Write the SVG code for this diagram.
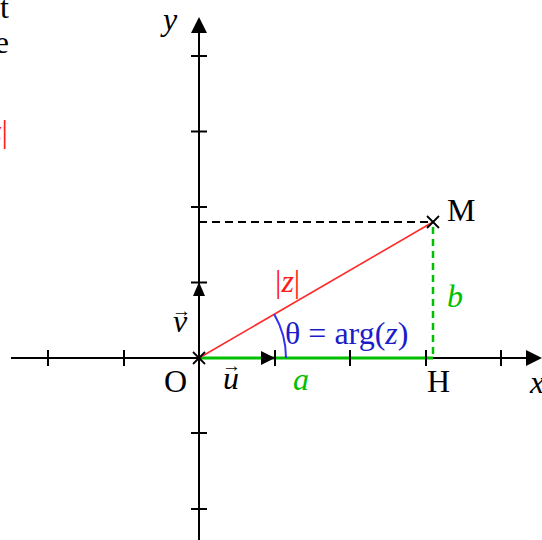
<svg xmlns="http://www.w3.org/2000/svg" width="542" height="540" viewBox="0 0 542 540">
<style>
text{font-family:"Liberation Serif","Times New Roman",serif;font-size:32px;fill:#000}
.it{font-style:italic}
.red{fill:#ff1a1a}
.green{fill:#00c000}
.blue{fill:#1c1cc8}
.ax{stroke:#000;stroke-width:2;fill:none}
.tick{stroke:#000;stroke-width:2}
.vec{font-size:19px}
</style>
<rect width="542" height="540" fill="#fff"/>
<g id="clipped-text">
<text x="9" y="18" text-anchor="end">t</text>
<text x="9" y="53" text-anchor="end">e</text>
<text x="8" y="142" text-anchor="end" class="red">|<tspan class="it">z</tspan>|</text>
</g>
<g id="axes">
<line class="ax" x1="11" y1="358" x2="528" y2="358"/>
<polygon points="542,358 526,350 526,366" fill="#000"/>
<line class="ax" x1="199" y1="540" x2="199" y2="31"/>
<polygon points="199,17 191,33 207,33" fill="#000"/>
<g class="tick">
<line x1="48" y1="350" x2="48" y2="366"/>
<line x1="124" y1="350" x2="124" y2="366"/>
<line x1="501" y1="350" x2="501" y2="366"/>
<line x1="191" y1="56" x2="207" y2="56"/>
<line x1="191" y1="131.5" x2="207" y2="131.5"/>
<line x1="191" y1="207" x2="207" y2="207"/>
<line x1="191" y1="282.5" x2="207" y2="282.5"/>
<line x1="191" y1="433" x2="207" y2="433"/>
<line x1="191" y1="509" x2="207" y2="509"/>
</g>
<text x="163" y="30" class="it">y</text>
<text x="530" y="393" class="it">x</text>
</g>
<g id="connectors">
<line x1="199" y1="222" x2="433" y2="222" stroke="#000" stroke-width="2" stroke-dasharray="8,5"/>
<line x1="199" y1="358" x2="433" y2="358" stroke="#00c000" stroke-width="3"/>
<line x1="433" y1="227" x2="433" y2="358" stroke="#00c000" stroke-width="2.5" stroke-dasharray="7,5"/>
<line x1="199" y1="358" x2="433" y2="222" stroke="#ff2a2a" stroke-width="1.6"/>
<path d="M286,358 A87,87 0 0 0 274.2,314.3" fill="none" stroke="#3030f0" stroke-width="2"/>
<g class="tick">
<line x1="275" y1="350" x2="275" y2="366"/>
<line x1="350" y1="350" x2="350" y2="366"/>
<line x1="426" y1="350" x2="426" y2="366"/>
</g>
<polygon points="275,358 261,351 261,365" fill="#000"/>
<polygon points="199,282 193,296 205,296" fill="#000"/>
</g>
<g id="O">
<line x1="193" y1="352" x2="205" y2="364" stroke="#000" stroke-width="1.8"/>
<line x1="193" y1="364" x2="205" y2="352" stroke="#000" stroke-width="1.8"/>
<text x="164" y="392">O</text>
</g>
<g id="M">
<line x1="427" y1="216" x2="439" y2="228" stroke="#000" stroke-width="1.8"/>
<line x1="427" y1="228" x2="439" y2="216" stroke="#000" stroke-width="1.8"/>
<text x="447" y="221">M</text>
</g>
<g id="H">
<text x="427" y="392">H</text>
</g>
<g id="labels">
<text x="173" y="332" class="it">v</text>
<text x="172" y="317" class="vec">→</text>
<text x="223" y="389" class="it">u</text>
<text x="222" y="372" class="vec">→</text>
<text x="293" y="390" class="it green">a</text>
<text x="447" y="307" class="it green">b</text>
<text x="275" y="292" class="red">|<tspan class="it">z</tspan>|</text>
<text x="285" y="344" class="blue">θ = arg(<tspan class="it">z</tspan>)</text>
</g>
</svg>
